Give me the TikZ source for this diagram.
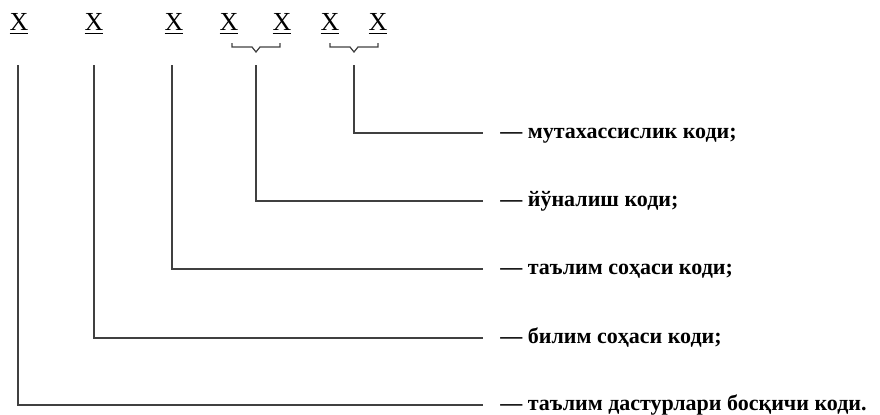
\documentclass[tikz,border=0pt]{standalone}
\usepackage{fontspec}
\setmainfont{Liberation Serif}
\newcommand{\codeX}[0]{\underline{X}}

\begin{document}
\begin{tikzpicture}[x=0.5pt, y=-0.5pt]
  \tikzset{digit/.style={font=\fontsize{13}{13}\selectfont, inner sep=0pt},
           codetext/.style={anchor=west, inner xsep=8.5pt, inner ysep=0pt,
             font=\bfseries\fontsize{11}{11}\selectfont, text height=1.5ex, text depth=0.25ex},
           wire/.style={draw=black!75, line width=0.6pt}}
  \useasboundingbox (0,0) rectangle (880,414);
  % code digits
  \node[digit] (x1) at (19,24) {\codeX};
  \node[digit] (x2) at (94,24) {\codeX};
  \node[digit] (x3) at (174,24) {\codeX};
  \node[digit] (x4) at (229,24) {\codeX};
  \node[digit] (x5) at (282,24) {\codeX};
  \node[digit] (x6) at (330,24) {\codeX};
  \node[digit] (x7) at (378,24) {\codeX};
  % braces under pairs
  \draw[wire] (232,43) -- (232,47) -- (252,47) -- (256,52) -- (260,47) -- (280,47) -- (280,43);
  \draw[wire] (330,43) -- (330,47) -- (350,47) -- (354,52) -- (358,47) -- (378,47) -- (378,43);
  % line starts
  \coordinate (c1) at (18,65);
  \coordinate (c2) at (94,65);
  \coordinate (c3) at (172,65);
  \coordinate (c4) at (256,65);
  \coordinate (c5) at (354,65);
  % explanations
  \node[codetext] (t5) at (483,133) {— мутахассислик коди;};
  \node[codetext] (t4) at (483,201) {— йўналиш коди;};
  \node[codetext] (t3) at (483,269) {— таълим соҳаси коди;};
  \node[codetext] (t2) at (483,338) {— билим соҳаси коди;};
  \node[codetext] (t1) at (483,405) {— таълим дастурлари босқичи коди.};
  \draw[wire] (c5) |- (t5.west);
  \draw[wire] (c4) |- (t4.west);
  \draw[wire] (c3) |- (t3.west);
  \draw[wire] (c2) |- (t2.west);
  \draw[wire] (c1) |- (t1.west);
\end{tikzpicture}
\end{document}
